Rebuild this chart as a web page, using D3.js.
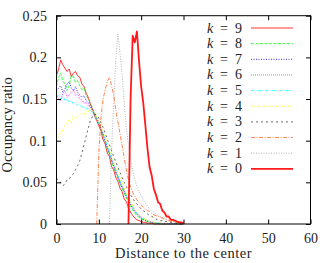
<!DOCTYPE html>
<html lang="en">
<head>
  <meta charset="utf-8" />
  <title>Occupancy ratio vs distance to the center</title>
  <script src="https://d3js.org/d3.v7.min.js"></script>
  <style>
    html, body { margin: 0; padding: 0; background: #fff; }
    svg { display: block; }
    text { font-family: "Liberation Serif", "DejaVu Serif", serif; fill: #222; }
  </style>
</head>
<body>
  <svg id="viz" width="327" height="263"></svg>
  <script>
    // shared x grid (distance to the center)
    const distance = [
      0, 0.5, 1, 1.5, 2, 2.5, 3, 3.5, 4, 4.5,
      5, 5.5, 6, 6.5, 7, 7.5, 8, 8.5, 9, 9.5,
      10, 10.5, 11, 11.5, 12, 12.5, 13, 13.5, 14, 14.5,
      15, 15.5, 16, 16.5, 17, 17.5, 18, 18.5, 19, 19.5,
      20, 20.5, 21, 21.5, 22, 22.5, 23, 23.5, 24, 24.5,
      25, 25.5, 26, 26.5, 27, 27.5, 28, 28.5, 29, 29.5,
      30
    ];

    const k9 = [
      .178, .186, .197, .191, .187, .183, .186, .177, .181, .183,
      .178, .176, .168, .165, .157, .152, .144, .138, .130, .124,
      .118, .112, .101, .096, .085, .081, .069, .065, .056, .051,
      .043, .039, .030, .027, .019, .014, .010, .007, .005, .004,
      .003, .002, .002, .001, .001, .001, 0, 0, 0, 0,
      0, 0, 0, 0, 0, 0, 0, 0, 0, 0,
      0
    ];
    const k8 = [
      .165, .176, .181, .172, .168, .160, .166, .178, .177, .170,
      .172, .166, .161, .163, .155, .150, .145, .139, .133, .126,
      .121, .113, .106, .098, .090, .083, .075, .068, .061, .055,
      .048, .043, .037, .031, .026, .021, .017, .013, .010, .008,
      .006, .005, .004, .003, .002, .002, .001, .001, .001, 0,
      0, 0, 0, 0, 0, 0, 0, 0, 0, 0,
      0
    ];
    const k7 = [
      .160, .163, .166, .158, .162, .168, .171, .163, .160, .165,
      .158, .155, .152, .154, .148, .146, .141, .137, .132, .127,
      .122, .115, .108, .100, .092, .085, .078, .070, .063, .057,
      .050, .044, .039, .033, .028, .023, .019, .015, .012, .009,
      .007, .006, .004, .003, .003, .002, .002, .001, .001, .001,
      0, 0, 0, 0, 0, 0, 0, 0, 0, 0,
      0
    ];
    const k6 = [
      .156, .150, .148, .157, .160, .152, .155, .158, .161, .154,
      .156, .150, .149, .145, .146, .142, .140, .136, .131, .126,
      .121, .114, .107, .099, .092, .085, .077, .070, .063, .057,
      .051, .045, .040, .034, .029, .024, .020, .016, .013, .010,
      .008, .006, .005, .004, .003, .002, .002, .001, .001, .001,
      0, 0, 0, 0, 0, 0, 0, 0, 0, 0,
      0
    ];
    const k5 = [
      .152, .155, .150, .154, .148, .150, .146, .148, .144, .146,
      .142, .144, .140, .141, .138, .140, .137, .134, .130, .126,
      .121, .115, .108, .101, .094, .087, .079, .072, .065, .058,
      .052, .046, .041, .035, .030, .025, .021, .017, .013, .010,
      .008, .006, .005, .004, .003, .002, .002, .001, .001, .001,
      0, 0, 0, 0, 0, 0, 0, 0, 0, 0,
      0
    ];
    const k4 = [
      .112, .105, .108, .113, .118, .122, .125, .121, .130, .127,
      .128, .131, .133, .130, .136, .135, .138, .136, .133, .128,
      .124, .118, .111, .104, .097, .090, .082, .075, .068, .061,
      .055, .049, .043, .037, .032, .027, .022, .018, .015, .012,
      .009, .007, .006, .004, .003, .003, .002, .002, .001, .001,
      .001, 0, 0, 0, 0, 0, 0, 0, 0, 0,
      0
    ];
    const k3 = [
      .055, .052, .050, .046, .048, .053, .054, .058, .060, .065,
      .070, .076, .085, .095, .105, .115, .124, .129, .132, .131,
      .127, .122, .116, .109, .102, .095, .088, .081, .075, .068,
      .062, .056, .050, .045, .040, .035, .031, .027, .024, .021,
      .018, .016, .014, .012, .010, .009, .008, .006, .005, .004,
      .004, .003, .003, .002, .002, .001, .001, .001, 0, 0,
      0
    ];
    const k2 = [
      null, null, null, null, null, null, null, null, null, null,
      null, null, null, null, null, null, null, null, null, 0,
      .085, .128, .150, .161, .171, .176, .166, .155, .137, .123,
      .108, .094, .079, .065, .053, .044, .038, .033, .029, .026,
      .023, .020, .018, .016, .015, .013, .011, .010, .009, .008,
      .007, .006, .005, .004, .003, .003, .002, .002, .001, .001,
      .001
    ];
    const k1 = [
      null, null, null, null, null, null, null, null, null, null,
      null, null, null, null, null, null, null, null, null, null,
      null, null, null, null, null, 0, .085, .145, .195, .228,
      .205, .178, .145, .115, .095, .078, .064, .053, .045, .038,
      .034, .029, .025, .021, .018, .016, .014, .012, .010, .009,
      .008, .007, .006, .005, .004, .003, .003, .002, .002, .001,
      .001
    ];
    const k0 = [
      null, null, null, null, null, null, null, null, null, null,
      null, null, null, null, null, null, null, null, null, null,
      null, null, null, null, null, null, null, null, null, null,
      null, null, null, null, 0, .150, .226, .218, .231, .195,
      .165, .145, .118, .090, .068, .058, .042, .035, .026, .024,
      .016, .014, .009, .009, .005, .005, .004, .003, .002, .002,
      .001
    ];

    const seriesNames = ["k = 9", "k = 8", "k = 7", "k = 6", "k = 5", "k = 4", "k = 3", "k = 2", "k = 1", "k = 0"];
    const seriesValues = [k9, k8, k7, k6, k5, k4, k3, k2, k1, k0];
    const xTicks = [0, 10, 20, 30, 40, 50, 60];
    const yTicks = [0, 0.05, 0.1, 0.15, 0.2, 0.25];

    // gnuplot epslatex look
    const styles = [
      { color: "#ff0000", dash: null, width: 0.8 },
      { color: "#00ff00", dash: "3,1.5", width: 0.8 },
      { color: "#0000ff", dash: "1,1.5", width: 0.8 },
      { color: "#ff00ff", dash: "1,1", width: 0.7 },
      { color: "#00ffff", dash: "3,1.5,1,1.5", width: 0.8 },
      { color: "#ffff00", dash: "2,1.5,1,1.5", width: 0.8 },
      { color: "#000000", dash: "2,3", width: 0.6 },
      { color: "#ff4d00", dash: "4,1.5,1,1.5", width: 0.7 },
      { color: "#808080", dash: "1,1.5", width: 0.6 },
      { color: "#ff1a1a", dash: null, width: 1.8 }
    ];

    const plotLeft = 56.5, plotRight = 310.5, plotTop = 15.7, plotBottom = 224;
    const TICK = 4.5;

    const svg = d3.select("#viz");
    const x = d3.scaleLinear().domain([0, 60]).range([plotLeft, plotRight]);
    const y = d3.scaleLinear().domain([0, 0.25]).range([plotBottom, plotTop]);

    // curves
    const line = d3.line()
      .defined(d => d[1] != null)
      .x(d => x(d[0]))
      .y(d => y(d[1]));

    const gLines = svg.append("g");
    seriesValues.forEach((vals, i) => {
      const pts = distance.map((dx, j) => [dx, vals[j]]);
      gLines.append("path")
        .datum(pts)
        .attr("fill", "none")
        .attr("stroke", styles[i].color)
        .attr("stroke-width", styles[i].width)
        .attr("stroke-dasharray", styles[i].dash)
        .attr("stroke-linejoin", "round")
        .attr("d", line);
    });

    // frame with inward ticks on all four sides
    const gAxes = svg.append("g");
    gAxes.append("rect")
      .attr("x", plotLeft).attr("y", plotTop)
      .attr("width", plotRight - plotLeft).attr("height", plotBottom - plotTop)
      .attr("fill", "none").attr("stroke", "#000").attr("stroke-width", 1);

    const bottomAxis = d3.axisBottom(x).tickValues(xTicks).tickSizeInner(-TICK).tickSizeOuter(0).tickFormat(d3.format("d"));
    const topAxis = d3.axisTop(x).tickValues(xTicks).tickSizeInner(-TICK).tickSizeOuter(0).tickFormat("");
    const leftAxis = d3.axisLeft(y).tickValues(yTicks).tickSizeInner(-TICK).tickSizeOuter(0).tickFormat(d => String(+d.toFixed(2)));
    const rightAxis = d3.axisRight(y).tickValues(yTicks).tickSizeInner(-TICK).tickSizeOuter(0).tickFormat("");

    const gb = gAxes.append("g").attr("transform", `translate(0,${plotBottom})`).call(bottomAxis);
    const gt = gAxes.append("g").attr("transform", `translate(0,${plotTop})`).call(topAxis);
    const gl = gAxes.append("g").attr("transform", `translate(${plotLeft},0)`).call(leftAxis);
    const gr = gAxes.append("g").attr("transform", `translate(${plotRight},0)`).call(rightAxis);

    [gb, gt, gl, gr].forEach(g => {
      g.attr("font-family", null).attr("font-size", null);
      g.select(".domain").remove();
      g.selectAll(".tick line").attr("stroke", "#000");
    });

    gb.selectAll(".tick text")
      .attr("y", 19).attr("dy", null)
      .style("font-size", "14px").attr("fill", "#222");
    gl.selectAll(".tick text")
      .attr("x", -9.5).attr("dy", "0.33em")
      .style("font-size", "14px").attr("fill", "#222");

    // axis titles
    svg.append("text")
      .attr("x", (plotLeft + plotRight) / 2)
      .attr("y", 258)
      .attr("text-anchor", "middle")
      .style("font-size", "14.5px")
      .style("letter-spacing", "0.5px")
      .text("Distance to the center");

    svg.append("text")
      .attr("transform", `translate(12,${(plotTop + plotBottom) / 2 + 5}) rotate(-90)`)
      .attr("text-anchor", "middle")
      .style("font-size", "14.5px")
      .text("Occupancy ratio");

    // legend
    const legendTop = 28, legendStep = 15.65;
    const gLegend = svg.append("g");
    seriesNames.forEach((name, i) => {
      const ly = legendTop + i * legendStep;
      const parts = name.split(" = ");
      gLegend.append("text")
        .attr("x", 207).attr("y", ly + 4.5)
        .style("font-size", "14px").style("font-style", "italic")
        .text(parts[0]);
      gLegend.append("text")
        .attr("x", 224).attr("y", ly + 4.5)
        .attr("text-anchor", "middle")
        .style("font-size", "14px")
        .text("=");
      gLegend.append("text")
        .attr("x", 242).attr("y", ly + 4.5)
        .attr("text-anchor", "end")
        .style("font-size", "14px")
        .text(parts[1]);
      gLegend.append("line")
        .attr("x1", 251).attr("x2", 293)
        .attr("y1", ly).attr("y2", ly)
        .attr("stroke", styles[i].color)
        .attr("stroke-width", styles[i].width)
        .attr("stroke-dasharray", styles[i].dash);
    });
  </script>
</body>
</html>
